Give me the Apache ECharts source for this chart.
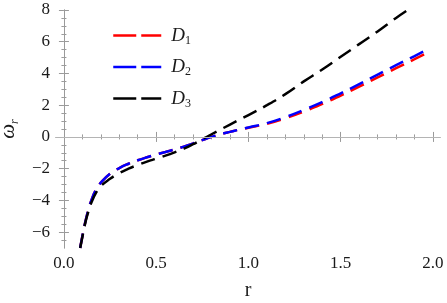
<!DOCTYPE html>
<html>
<head>
<meta charset="utf-8">
<script src="https://cdn.jsdelivr.net/npm/echarts@6/dist/echarts.min.js"></script>
<style>
html,body{margin:0;padding:0;background:#fff;}
#c{width:447px;height:303px;}
</style>
</head>
<body>
<div id="c"></div>
<script>
// ---- data ----
const rD = [0.088, 0.1, 0.115, 0.13, 0.15, 0.175, 0.2, 0.25, 0.3, 0.35, 0.4, 0.45, 0.5, 0.55, 0.6, 0.65, 0.7, 0.75, 0.8, 0.85, 0.9, 0.95, 1.0, 1.1, 1.2, 1.3, 1.4, 1.5, 1.6, 1.7, 1.8, 1.9, 1.975];
const D1 = [-7.0, -6.25, -5.4, -4.7, -3.95, -3.3, -2.88, -2.32, -1.96, -1.69, -1.47, -1.28, -1.11, -0.95, -0.79, -0.61, -0.41, -0.2, 0.0, 0.17, 0.32, 0.46, 0.58, 0.83, 1.18, 1.6, 2.08, 2.61, 3.17, 3.75, 4.33, 4.9, 5.34];
const D2 = [-7.0, -6.25, -5.4, -4.7, -3.95, -3.3, -2.88, -2.32, -1.96, -1.69, -1.47, -1.28, -1.11, -0.95, -0.79, -0.61, -0.41, -0.2, 0.0, 0.17, 0.32, 0.46, 0.6, 0.87, 1.25, 1.7, 2.2, 2.75, 3.33, 3.93, 4.52, 5.1, 5.55];
const r3 = [0.088, 0.1, 0.115, 0.13, 0.15, 0.175, 0.2, 0.25, 0.3, 0.35, 0.4, 0.45, 0.5, 0.55, 0.6, 0.65, 0.7, 0.75, 0.8, 0.9, 1.0, 1.1, 1.2, 1.3, 1.4, 1.5, 1.6, 1.7, 1.8, 1.87];
const D3 = [-7.0, -6.3, -5.45, -4.8, -4.1, -3.5, -3.1, -2.64, -2.28, -2.0, -1.77, -1.56, -1.37, -1.18, -0.97, -0.74, -0.46, -0.14, 0.17, 0.78, 1.38, 2.0, 2.7, 3.5, 4.25, 5.05, 5.85, 6.65, 7.5, 8.05];
const seriesNames = ['D1', 'D2', 'D3'];
const seriesColors = ['#ff0000', '#0000ff', '#000000'];
const xMajor = [0, 0.5, 1.0, 1.5, 2.0];
const xMinor = [0.1, 0.2, 0.3, 0.4, 0.6, 0.7, 0.8, 0.9, 1.1, 1.2, 1.3, 1.4, 1.6, 1.7, 1.8, 1.9];
const yMajor = [-6, -4, -2, 0, 2, 4, 6, 8];
const yMinor = [-6.5, -5.5, -5, -4.5, -3.5, -3, -2.5, -1.5, -1, -0.5, 0.5, 1, 1.5, 2.5, 3, 3.5, 4.5, 5, 5.5, 6.5, 7, 7.5];
const xMin = -0.043, xMax = 2.038, yMin = -7, yMax = 8;

const zip = (xs, ys) => xs.map((x, i) => [x, ys[i]]);
const FRAME = '#9a9a9a';
const SERIF = 'Liberation Serif';
const TXT = '#1a1a1a';

function xAx(grid, pos, major, labels) {
  return {
    type: 'value', gridIndex: grid, position: pos, min: xMin, max: xMax,
    axisLine: {show: major, lineStyle: {color: FRAME, width: 1}},
    axisTick: {show: true, inside: true, length: major ? 5 : 2.5, customValues: major ? xMajor : xMinor,
               lineStyle: {color: FRAME, width: 1}},
    axisLabel: {show: labels, customValues: xMajor, formatter: v => v.toFixed(1), margin: 7,
                color: TXT, fontFamily: SERIF, fontSize: 17},
    splitLine: {show: false},
    name: labels ? 'r' : '', nameLocation: 'middle', nameGap: 33,
    nameTextStyle: {fontFamily: SERIF, fontSize: 20, color: TXT}
  };
}
function yAx(grid, pos, major, labels) {
  return {
    type: 'value', gridIndex: grid, position: pos, min: yMin, max: yMax,
    axisLine: {show: major, lineStyle: {color: FRAME, width: 1}},
    axisTick: {show: true, inside: true, length: major ? 5 : 2.5, customValues: major ? yMajor : yMinor,
               lineStyle: {color: FRAME, width: 1}},
    axisLabel: {show: labels, customValues: yMajor, margin: 6,
                formatter: v => (v < 0 ? '\u2212' + Math.abs(v) : String(v)),
                color: TXT, fontFamily: SERIF, fontSize: 17},
    splitLine: {show: false},
    name: labels ? '{w|ω}{s|r}' : '', nameLocation: 'middle', nameGap: 33, nameRotate: 90,
    nameTextStyle: {color: TXT, rich: {
      w: {fontFamily: SERIF, fontStyle: 'italic', fontSize: 21, color: TXT, lineHeight: 24, verticalAlign: 'middle'},
      s: {fontFamily: SERIF, fontStyle: 'italic', fontSize: 12, color: TXT, padding: [14, 0, 0, 0]}
    }}
  };
}

const gridRect = {left: 56, right: 7, top: 10, bottom: 55, containLabel: false, outerBoundsMode: 'none'};
const lineDash = [14.5, 8];

const chart = echarts.init(document.getElementById('c'), null, {renderer: 'canvas'});
chart.setOption({
  animation: false,
  backgroundColor: '#fff',
  textStyle: {fontFamily: SERIF},
  grid: [Object.assign({}, gridRect), Object.assign({}, gridRect)],
  xAxis: [xAx(0, 'bottom', true, true), xAx(0, 'top', true, false), xAx(1, 'bottom', false, false), xAx(1, 'top', false, false)],
  yAxis: [yAx(0, 'left', true, true), yAx(0, 'right', true, false), yAx(1, 'left', false, false), yAx(1, 'right', false, false)],
  legend: {
    orient: 'vertical', left: 107, top: 21, itemWidth: 48, itemHeight: 14, itemGap: 11,
    data: seriesNames,
    itemStyle: {opacity: 0},
    lineStyle: {type: [23, 5], width: 2.5},
    formatter: n => '{d|D}{s|' + n.slice(1) + '}',
    textStyle: {padding: [0, 0, 0, 5], rich: {
      d: {fontFamily: SERIF, fontStyle: 'italic', fontSize: 19, color: TXT},
      s: {fontFamily: SERIF, fontSize: 12, color: TXT, padding: [10, 0, 0, 0]}
    }}
  },
  series: [
    {name: seriesNames[0], type: 'line', xAxisIndex: 0, yAxisIndex: 0, data: zip(rD, D1),
     symbol: 'none', smooth: 0.5, clip: true, color: seriesColors[0],
     lineStyle: {color: seriesColors[0], width: 2.5, type: lineDash},
     markLine: {silent: true, symbol: 'none', label: {show: false}, animation: false,
                lineStyle: {color: '#b4b4b4', width: 1, type: 'solid'}, data: [{yAxis: 0}]}},
    {name: seriesNames[1], type: 'line', xAxisIndex: 0, yAxisIndex: 0, data: zip(rD, D2),
     symbol: 'none', smooth: 0.5, clip: true, color: seriesColors[1],
     lineStyle: {color: seriesColors[1], width: 2.5, type: lineDash}},
    {name: seriesNames[2], type: 'line', xAxisIndex: 0, yAxisIndex: 0, data: zip(r3, D3),
     symbol: 'none', smooth: 0.5, clip: true, color: seriesColors[2],
     lineStyle: {color: seriesColors[2], width: 2.5, type: lineDash}}
  ]
});
</script>
</body>
</html>
